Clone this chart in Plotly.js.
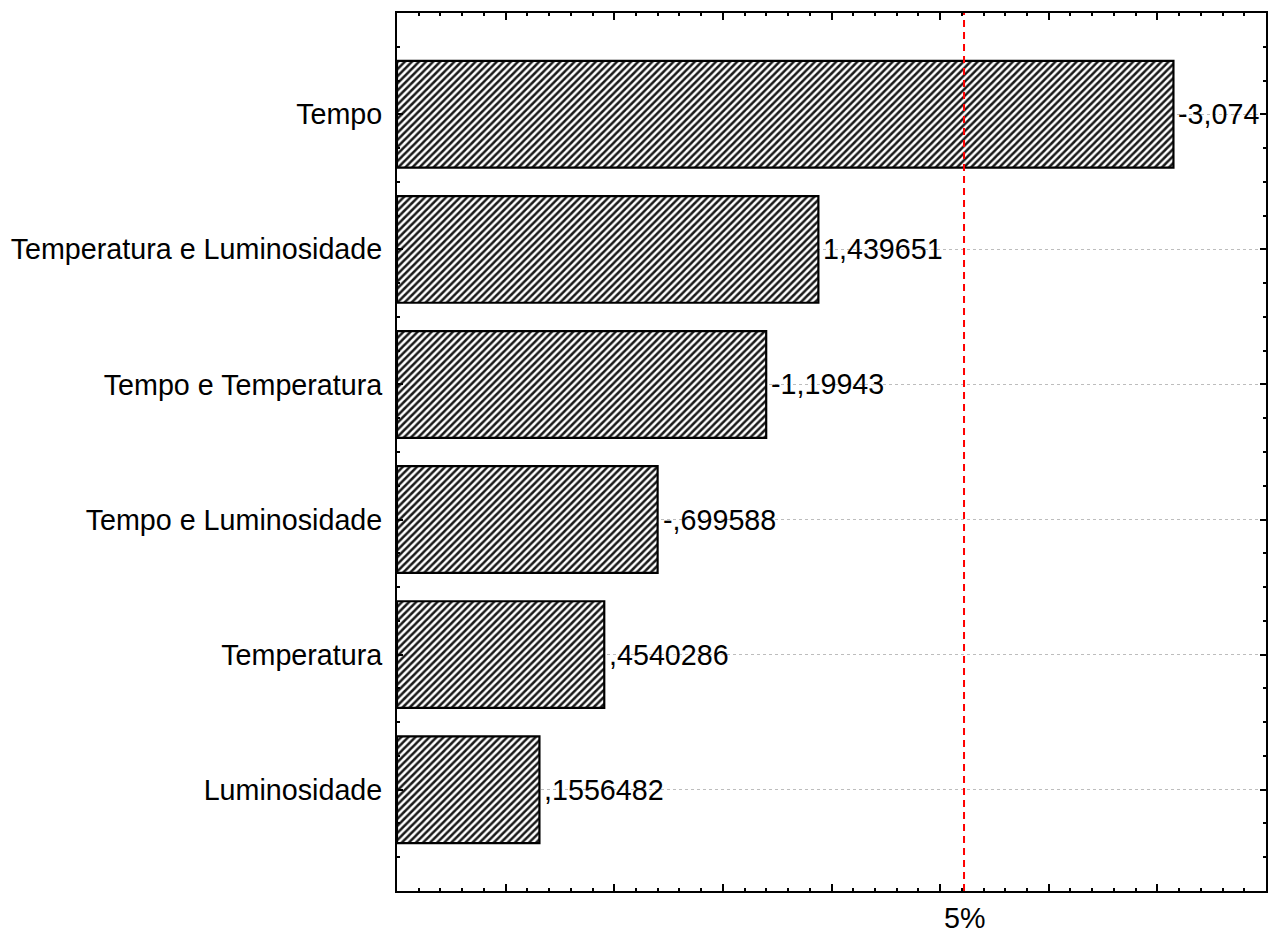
<!DOCTYPE html>
<html>
<head>
<meta charset="utf-8">
<script src="https://cdn.plot.ly/plotly-3.0.1.min.js"></script>
<style>html,body{margin:0;padding:0;background:#fff;}</style>
</head>
<body>
<div id="chart" style="width:1268px;height:933px;"></div>
<script>
// Categories from bottom to top
const categories = ["Luminosidade", "Temperatura", "Tempo e Luminosidade", "Tempo e Temperatura", "Temperatura e Luminosidade", "Tempo"];
// Standardized effects (signed)
const effects = [0.1556482, 0.4540286, -0.699588, -1.19943, 1.439651, -3.074];
const effectLabels = [",1556482", ",4540286", "-,699588", "-1,19943", "1,439651", "-3,074"];
const criticalValue = 2.11;
const criticalLabel = "5%";
const axisMin = -0.5, axisMax = 3.5;

const positions = categories.map((_, i) => i);
const absEffects = effects.map(v => Math.abs(v));

const font = "Arial, 'Liberation Sans', sans-serif";
const fsize = 28.7;

const bars = {
  type: "bar",
  orientation: "h",
  y: positions,
  x: absEffects.map(v => v - axisMin),
  base: axisMin,
  width: 0.79,
  marker: {
    color: "white",
    line: {color: "black", width: 2.2},
    pattern: {shape: "/", fgcolor: "#1a1a1a", bgcolor: "white", size: 5, solidity: 0.5}
  },
  hoverinfo: "skip"
};

const valueAnnotations = absEffects.map((v, i) => ({
  xref: "x", yref: "y",
  x: v, y: positions[i],
  text: effectLabels[i],
  showarrow: false,
  xanchor: "left", yanchor: "middle",
  xshift: 3,
  font: {family: font, size: fsize, color: "black"}
}));

const layout = {
  width: 1268,
  height: 933,
  margin: {l: 397, r: 2, t: 13, b: 42},
  paper_bgcolor: "white",
  plot_bgcolor: "white",
  showlegend: false,
  font: {family: font, size: fsize, color: "black"},
  xaxis: {
    range: [axisMin, axisMax],
    showticklabels: false,
    showgrid: false,
    zeroline: false,
    showline: true,
    linecolor: "black",
    linewidth: 2,
    mirror: "ticks",
    ticks: "inside",
    dtick: 0.5,
    tick0: 0,
    ticklen: 7,
    tickwidth: 2,
    tickcolor: "black",
    minor: {dtick: 0.1, ticks: "inside", ticklen: 3, tickwidth: 2, tickcolor: "black", showgrid: false}
  },
  yaxis: {
    range: [-0.75, 5.75],
    tickvals: positions,
    ticktext: categories,
    tickfont: {family: font, size: fsize, color: "black"},
    showgrid: true,
    gridcolor: "#bdbdbd",
    griddash: "dot",
    gridwidth: 1,
    zeroline: false,
    showline: true,
    linecolor: "black",
    linewidth: 2,
    mirror: "ticks",
    ticks: "inside",
    ticklen: 6,
    tickwidth: 2,
    tickcolor: "black",
    ticklabelstandoff: 7,
    minor: {dtick: 0.25, tick0: 0, ticks: "inside", ticklen: 3, tickwidth: 2, tickcolor: "black", showgrid: false}
  },
  shapes: [{
    type: "line",
    xref: "x", yref: "paper",
    x0: criticalValue, x1: criticalValue, y0: 0, y1: 1,
    line: {color: "red", width: 2, dash: "7px,5px"},
    layer: "above"
  }],
  annotations: valueAnnotations.concat([{
    xref: "x", yref: "paper",
    x: criticalValue, y: 0,
    yshift: -27,
    text: criticalLabel,
    showarrow: false,
    xanchor: "center", yanchor: "middle",
    font: {family: font, size: fsize, color: "black"}
  }])
};

Plotly.newPlot("chart", [bars], layout, {displayModeBar: false, staticPlot: true});
</script>
</body>
</html>
